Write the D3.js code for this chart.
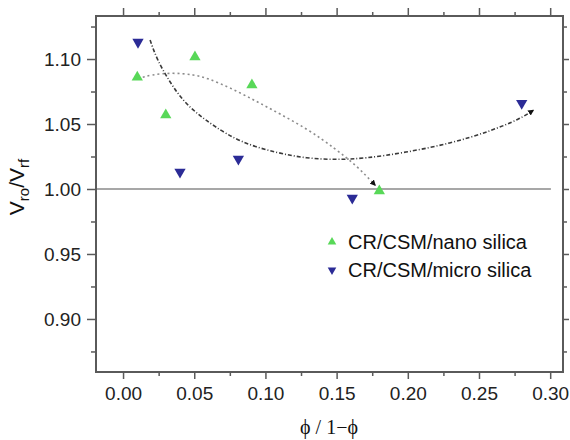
<!DOCTYPE html>
<html><head><meta charset="utf-8">
<script src="https://cdn.jsdelivr.net/npm/d3@7"></script>
<style>body{margin:0;background:#fff}svg{display:block}</style>
</head><body><svg id="c" width="570" height="440"></svg>
<script>
const xTicks = [0.00, 0.05, 0.10, 0.15, 0.20, 0.25, 0.30];
const xTickLabels = ["0.00", "0.05", "0.10", "0.15", "0.20", "0.25", "0.30"];
const xMinor = [0.025, 0.075, 0.125, 0.175, 0.225, 0.275];
const yTicks = [0.90, 0.95, 1.00, 1.05, 1.10];
const yTickLabels = ["0.90", "0.95", "1.00", "1.05", "1.10"];
const yMinor = [0.875, 0.925, 0.975, 1.025, 1.075, 1.125];
const seriesNames = ["CR/CSM/nano silica", "CR/CSM/micro silica"];
const nanoX = [0.010, 0.030, 0.0505, 0.0905, 0.180];
const nanoY = [1.086, 1.057, 1.1015, 1.080, 0.9985];
const microX = [0.0105, 0.040, 0.081, 0.161, 0.280];
const microY = [1.113, 1.013, 1.023, 0.993, 1.066];
// fitted trend curves
const fitMicroX = [0.019, 0.024, 0.033, 0.042, 0.052, 0.063, 0.082, 0.107, 0.129, 0.150, 0.170, 0.198, 0.230, 0.258, 0.279, 0.288];
const fitMicroY = [1.1146, 1.099, 1.082, 1.068, 1.058, 1.049, 1.036, 1.028, 1.0235, 1.0225, 1.0235, 1.028, 1.035, 1.0445, 1.054, 1.0605];
const fitNanoX = [0.0105, 0.020, 0.035, 0.050, 0.060, 0.075, 0.091, 0.103, 0.130, 0.149, 0.164, 0.177];
const fitNanoY = [1.085, 1.088, 1.0895, 1.088, 1.085, 1.078, 1.069, 1.062, 1.046, 1.031, 1.018, 1.003];

const svg = d3.select("#c");
const L = 96, T = 16, R = 563, B = 372;
const x = d3.scaleLinear().domain([-0.019, 0.309]).range([L, R]);
const y = d3.scaleLinear().domain([0.8592, 1.1331]).range([B, T]);

const frameColor = "#5a5a5a";
const font = "'Liberation Sans', Arial, sans-serif";

// reference line at 1.00
svg.append("line").attr("x1", L).attr("x2", x(0.3005)).attr("y1", y(1)).attr("y2", y(1))
  .attr("stroke", "#8a8a8a").attr("stroke-width", 1.5);

function styleAxis(g) {
  g.select(".domain").remove();
  g.selectAll(".tick line").attr("stroke", frameColor).attr("stroke-width", 1.5);
  g.selectAll("text").attr("font-family", font).attr("font-size", 19).attr("fill", "#222");
}
// bottom
svg.append("g").attr("transform", `translate(0,${B})`)
  .call(d3.axisBottom(x).tickValues(xTicks).tickSize(7).tickPadding(8).tickFormat((d, i) => xTickLabels[i]))
  .call(styleAxis);
svg.append("g").attr("transform", `translate(0,${B})`)
  .call(d3.axisBottom(x).tickValues(xMinor).tickSize(4).tickFormat(""))
  .call(styleAxis);
// top
svg.append("g").attr("transform", `translate(0,${T})`)
  .call(d3.axisTop(x).tickValues(xTicks).tickSize(8).tickFormat(""))
  .call(styleAxis);
svg.append("g").attr("transform", `translate(0,${T})`)
  .call(d3.axisTop(x).tickValues(xMinor).tickSize(4).tickFormat(""))
  .call(styleAxis);
// left
svg.append("g").attr("transform", `translate(${L},0)`)
  .call(d3.axisLeft(y).tickValues(yTicks).tickSize(9).tickPadding(6).tickFormat((d, i) => yTickLabels[i]))
  .call(styleAxis);
svg.append("g").attr("transform", `translate(${L},0)`)
  .call(d3.axisLeft(y).tickValues(yMinor).tickSize(5).tickFormat(""))
  .call(styleAxis);
// right
svg.append("g").attr("transform", `translate(${R},0)`)
  .call(d3.axisRight(y).tickValues(yTicks).tickSize(6).tickFormat(""))
  .call(styleAxis);
svg.append("g").attr("transform", `translate(${R},0)`)
  .call(d3.axisRight(y).tickValues(yMinor).tickSize(4).tickFormat(""))
  .call(styleAxis);

// frame
svg.append("rect").attr("x", L).attr("y", T).attr("width", R - L).attr("height", B - T)
  .attr("fill", "none").attr("stroke", frameColor).attr("stroke-width", 2);

// arrow marker
const defs = svg.append("defs");
defs.append("marker").attr("id", "arr").attr("viewBox", "0 0 10 10").attr("refX", 8).attr("refY", 5)
  .attr("markerWidth", 6).attr("markerHeight", 6).attr("markerUnits", "userSpaceOnUse").attr("orient", "auto")
  .append("path").attr("d", "M0,0 L10,5 L0,10 Z").attr("fill", "#111");

const line = d3.line().x(d => x(d[0])).y(d => y(d[1])).curve(d3.curveBasis);
svg.append("path").datum(fitNanoX.map((v, i) => [v, fitNanoY[i]]))
  .attr("d", line).attr("fill", "none").attr("stroke", "#8c8c8c").attr("stroke-width", 1.6)
  .attr("stroke-dasharray", "2,3").attr("marker-end", "url(#arr)");
svg.append("path").datum(fitMicroX.map((v, i) => [v, fitMicroY[i]]))
  .attr("d", line).attr("fill", "none").attr("stroke", "#3a3a3a").attr("stroke-width", 1.6)
  .attr("stroke-dasharray", "4,2,1,2").attr("marker-end", "url(#arr)");

const green = "#58d858", blue = "#2b2b96";
const tri = d3.symbol().type(d3.symbolTriangle).size(55);
svg.append("g").selectAll("path").data(nanoX.map((v, i) => [v, nanoY[i]])).join("path")
  .attr("d", tri).attr("transform", d => `translate(${x(d[0])},${y(d[1])})`).attr("fill", green);
svg.append("g").selectAll("path").data(microX.map((v, i) => [v, microY[i]])).join("path")
  .attr("d", tri).attr("transform", d => `translate(${x(d[0])},${y(d[1])}) rotate(180)`).attr("fill", blue);

// legend
const tri2 = d3.symbol().type(d3.symbolTriangle).size(32);
const leg = [[seriesNames[0], green, 0], [seriesNames[1], blue, 180]];
leg.forEach((l, i) => {
  const cy = 242 + i * 28;
  svg.append("path").attr("d", tri2).attr("transform", `translate(332,${cy}) rotate(${l[2]})`).attr("fill", l[1]);
  svg.append("text").attr("x", 348).attr("y", cy + 7).attr("font-family", font).attr("font-size", 20)
    .attr("fill", "#111").text(l[0]);
});

// axis titles
const yt = svg.append("text").attr("transform", "translate(24,187) rotate(-90)").attr("text-anchor", "middle")
  .attr("font-family", font).attr("font-size", 21).attr("fill", "#111");
yt.append("tspan").text("V");
yt.append("tspan").attr("font-size", 15).attr("dy", 5).text("ro");
yt.append("tspan").attr("dy", -5).text("/V");
yt.append("tspan").attr("font-size", 15).attr("dy", 5).text("rf");

svg.append("text").attr("x", 329).attr("y", 434).attr("text-anchor", "middle")
  .attr("font-family", "'Liberation Serif', 'Times New Roman', serif").attr("font-size", 20).attr("fill", "#111")
  .text("ϕ / 1−ϕ");
</script></body></html>
